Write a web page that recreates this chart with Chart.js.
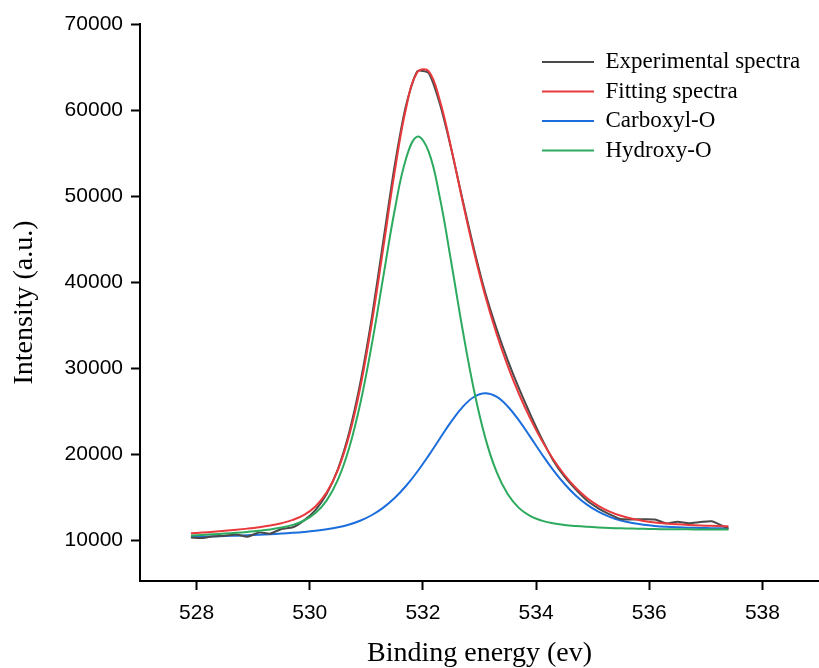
<!DOCTYPE html>
<html>
<head>
<meta charset="utf-8">
<script src="https://cdn.jsdelivr.net/npm/chart.js@4/dist/chart.umd.min.js"></script>
<style>
  html, body { margin: 0; padding: 0; background: #fff; }
  #wrap { width: 819px; height: 668px; }
</style>
</head>
<body>
<div id="wrap"><canvas id="chart" width="819" height="668"></canvas></div>
<script>
// binding energy grid (eV)
const energy = [
  527.9, 528.1, 528.3, 528.5, 528.7, 528.9, 529.1, 529.3, 529.5, 529.7,
  529.9, 530.1, 530.3, 530.5, 530.7, 530.9, 531.1, 531.3, 531.5, 531.7,
  531.9, 532.1, 532.3, 532.5, 532.7, 532.9, 533.1, 533.3, 533.5, 533.7,
  533.9, 534.1, 534.3, 534.5, 534.7, 534.9, 535.1, 535.3, 535.5, 535.7,
  535.9, 536.1, 536.3, 536.5, 536.7, 536.9, 537.1, 537.3, 537.4
];

const experimental = [
  10300, 10250, 10450, 10520, 10650, 10400, 10900, 10750, 11300, 11500,
  12300, 13500, 15400, 18300, 22600, 28500, 36000, 44800, 53500, 60500,
  64500, 64300, 60700, 55500, 49600, 43900, 38800, 34600, 30900, 27600,
  24600, 21800, 19300, 17400, 15900, 14600, 13700, 13000, 12450, 12400,
  12430, 12400, 11950, 12150, 11950, 12100, 12200, 11650, 11350
];

const fitting = [
  10796, 10880, 10974, 11079, 11199, 11338, 11502, 11705, 11970, 12349,
  12942, 13919, 15553, 18197, 22249, 27984, 35385, 43997, 52772, 60145,
  64383, 64518, 61087, 55574, 49427, 43578, 38426, 34015, 30232, 26960,
  24101, 21597, 19434, 17601, 16097, 14906, 13993, 13318, 12829, 12482,
  12236, 12060, 11933, 11838, 11765, 11708, 11662, 11624, 11609
];

const carboxyl = [
  10354, 10392, 10433, 10477, 10524, 10575, 10631, 10694, 10765, 10848,
  10950, 11080, 11253, 11490, 11821, 12284, 12922, 13781, 14897, 16291,
  17952, 19828, 21823, 23774, 25464, 26638, 27074, 26676, 25540, 23888,
  21975, 20018, 18180, 16557, 15201, 14123, 13302, 12702, 12277, 11984,
  11785, 11650, 11558, 11494, 11449, 11416, 11391, 11373, 11367
];

const hydroxy = [
  10542, 10607, 10679, 10759, 10851, 10958, 11085, 11244, 11457, 11772,
  12282, 13148, 14628, 17054, 20794, 26085, 32867, 40639, 48317, 54315,
  56911, 55189, 49782, 42337, 34519, 27515, 21946, 17952, 15324, 13723,
  12796, 12268, 11962, 11771, 11642, 11548, 11475, 11419, 11374, 11339,
  11311, 11289, 11273, 11261, 11252, 11247, 11245, 11244, 11245
];

const xTicks = [528, 530, 532, 534, 536, 538];
const yTicks = [10000, 20000, 30000, 40000, 50000, 60000, 70000];

const toPoints = (ys) => energy.map((e, i) => ({ x: e, y: ys[i] }));

const sansFont = "'Liberation Sans', Arial, Helvetica, sans-serif";
const serifFont = "'Liberation Serif', 'Times New Roman', Times, serif";

// put the vertical legend in the upper right of the plot
const legendMover = {
  id: 'legendMover',
  afterLayout(chart) {
    const lg = chart.legend;
    if (!lg) return;
    lg.left = chart.chartArea.right - 283.5;
    lg.right = chart.chartArea.right;
    lg.top = chart.chartArea.top + 20;
    lg.bottom = chart.chartArea.bottom;
  }
};

function line(label, ys, color, order, tension) {
  return {
    label: label,
    data: toPoints(ys),
    borderColor: color,
    backgroundColor: color,
    borderWidth: 2,
    pointRadius: 0,
    fill: false,
    tension: tension,
    order: order
  };
}

new Chart(document.getElementById('chart'), {
  type: 'line',
  data: {
    datasets: [
      line('Experimental spectra', experimental, '#4a4a4a', 2, 0.2),
      line('Fitting spectra', fitting, '#e8393c', 0, 0.4),
      line('Carboxyl-O', carboxyl, '#1c6edc', 3, 0.4),
      line('Hydroxy-O', hydroxy, '#2caa5e', 1, 0.4)
    ]
  },
  options: {
    responsive: false,
    animation: false,
    devicePixelRatio: 1,
    layout: { padding: { top: 24, right: 0, bottom: 0, left: 0 } },
    plugins: {
      tooltip: { enabled: false },
      legend: {
        position: 'chartArea',
        align: 'start',
        labels: {
          boxWidth: 52,
          boxHeight: 2,
          padding: 6.5,
          color: '#000',
          font: { family: serifFont, size: 23 },
          sort: (a, b) => a.datasetIndex - b.datasetIndex,
          generateLabels: (chart) =>
            Chart.defaults.plugins.legend.labels.generateLabels(chart)
              .map(l => ({ ...l, lineWidth: 0 }))
        }
      }
    },
    scales: {
      x: {
        type: 'linear',
        position: 'bottom',
        min: 527,
        max: 539,
        afterBuildTicks: (scale) => { scale.ticks = xTicks.map(v => ({ value: v })); },
        afterFit: (scale) => { scale.height = 87; },
        border: { display: true, color: '#000', width: 2 },
        grid: { drawOnChartArea: false, drawTicks: true, tickLength: 9, tickWidth: 2, tickColor: '#000' },
        ticks: { color: '#000', font: { family: sansFont, size: 21 }, padding: 11, maxRotation: 0,
          callback: (v) => String(v) },
        title: {
          display: true,
          text: 'Binding energy (ev)',
          color: '#000',
          font: { family: serifFont, size: 28, lineHeight: 1 },
          padding: { top: 0, bottom: 0 }
        }
      },
      y: {
        type: 'linear',
        position: 'left',
        min: 5250,
        max: 70000,
        afterBuildTicks: (scale) => { scale.ticks = yTicks.map(v => ({ value: v })); },
        afterFit: (scale) => { scale.width = 140; },
        border: { display: true, color: '#000', width: 2 },
        grid: { drawOnChartArea: false, drawTicks: true, tickLength: 9, tickWidth: 2, tickColor: '#000' },
        ticks: { color: '#000', font: { family: sansFont, size: 21 }, padding: 8,
          callback: (v) => String(v) },
        title: {
          display: true,
          text: 'Intensity (a.u.)',
          color: '#000',
          font: { family: serifFont, size: 28, lineHeight: 1 },
          padding: { top: 11, bottom: 0 }
        }
      }
    }
  },
  plugins: [legendMover]
});
</script>
</body>
</html>
